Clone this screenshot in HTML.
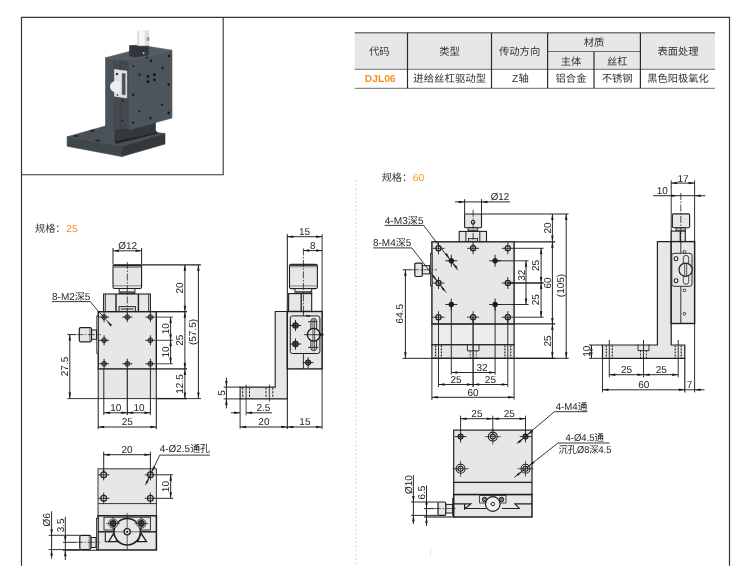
<!DOCTYPE html>
<html lang="zh-CN">
<head>
<meta charset="utf-8">
<title>DJL06 进给丝杠驱动型 Z轴</title>
<style>
html,body{margin:0;padding:0;background:#fff;}
body{width:750px;height:568px;overflow:hidden;}
svg{display:block;text-rendering:geometricPrecision;font-family:'Liberation Sans','Noto Sans CJK SC',sans-serif;}
</style>
</head>
<body>
<svg width="750" height="568" viewBox="0 0 750 568">
<defs><filter id="soft" x="0" y="0" width="750" height="568" filterUnits="userSpaceOnUse"><feGaussianBlur stdDeviation="0.38"/></filter><filter id="bl" x="-5%" y="-5%" width="110%" height="110%"><feGaussianBlur stdDeviation="0.55"/></filter></defs>
<rect width="750" height="568" fill="#fff"/>
<g filter="url(#soft)">
<path d="M21.5 565.7V17.4H729.5V565.7" fill="none" stroke="#3a3331" stroke-width="1.2"/>
<path d="M223.2 17.4V174.7H21.5" fill="none" stroke="#3a3331" stroke-width="1.1"/>
<line x1="356.1" y1="180" x2="356.1" y2="565" stroke="#dcdcdc" stroke-width="1.3" stroke-dasharray="2 2.2"/>
<line x1="430.5" y1="548.3" x2="430.5" y2="556.8" stroke="#dddddd" stroke-width="0.8"/>
<rect x="354.7" y="32.8" width="360.3" height="36.5" fill="#e6e7e8"/>
<line x1="354.7" y1="32.8" x2="715" y2="32.8" stroke="#77787a" stroke-width="1.4"/>
<line x1="354.7" y1="69.3" x2="715" y2="69.3" stroke="#6d6e70" stroke-width="1.0"/>
<line x1="354.7" y1="88.3" x2="715" y2="88.3" stroke="#6d6e70" stroke-width="1.0"/>
<line x1="547.6" y1="51.5" x2="640.4" y2="51.5" stroke="#6d6e70" stroke-width="1.0"/>
<line x1="407.5" y1="32.8" x2="407.5" y2="88.3" stroke="#2a2a2a" stroke-width="1.2"/>
<line x1="491.5" y1="32.8" x2="491.5" y2="88.3" stroke="#2a2a2a" stroke-width="1.2"/>
<line x1="547.6" y1="32.8" x2="547.6" y2="88.3" stroke="#2a2a2a" stroke-width="1.2"/>
<line x1="640.4" y1="32.8" x2="640.4" y2="88.3" stroke="#2a2a2a" stroke-width="1.2"/>
<line x1="594" y1="51.5" x2="594" y2="88.3" stroke="#2a2a2a" stroke-width="1.2"/>
<text x="379.2" y="55" font-size="10.3" text-anchor="middle" fill="#333" textLength="20.6" lengthAdjust="spacingAndGlyphs">代码</text>
<text x="449.5" y="55" font-size="10.3" text-anchor="middle" fill="#333">类型</text>
<text x="519.6" y="55" font-size="10.3" text-anchor="middle" fill="#333">传动方向</text>
<text x="594" y="45.9" font-size="10.3" text-anchor="middle" fill="#333">材质</text>
<text x="571" y="64.5" font-size="10.3" text-anchor="middle" fill="#333">主体</text>
<text x="617.2" y="64.5" font-size="10.3" text-anchor="middle" fill="#333">丝杠</text>
<text x="678" y="55" font-size="10.3" text-anchor="middle" fill="#333">表面处理</text>
<text x="380.2" y="82.3" font-size="10.2" text-anchor="middle" fill="#f7931e" textLength="30.7" lengthAdjust="spacingAndGlyphs" font-weight="bold">DJL06</text>
<text x="449.7" y="82.4" font-size="10.3" text-anchor="middle" fill="#333" textLength="72.8" lengthAdjust="spacingAndGlyphs">进给丝杠驱动型</text>
<text x="520.4" y="82.4" font-size="10.3" text-anchor="middle" fill="#333">Z轴</text>
<text x="571" y="82.4" font-size="10.3" text-anchor="middle" fill="#333">铝合金</text>
<text x="617.2" y="82.4" font-size="10.3" text-anchor="middle" fill="#333">不锈钢</text>
<text x="678" y="82.4" font-size="10.3" text-anchor="middle" fill="#333" textLength="61.4" lengthAdjust="spacingAndGlyphs">黑色阳极氧化</text>
<g filter="url(#bl)">
<polygon points="67.1,136.8 105.3,126 165,133.6 122.6,146.6" fill="#4a5156" stroke="#4a5156" stroke-width="0.6" stroke-linejoin="miter"/>
<polygon points="67.1,136.8 122.6,146.6 121.8,156.6 67.1,146.2" fill="#41474c" stroke="#41474c" stroke-width="0.6" stroke-linejoin="miter"/>
<polygon points="122.6,146.6 165,133.6 165,144 121.8,156.6" fill="#32373b" stroke="#32373b" stroke-width="0.6" stroke-linejoin="miter"/>
<polygon points="114.4,140.2 155.5,130.5 157.5,133.2 116,143.6" fill="#1f2225" stroke="#1f2225" stroke-width="0.6" stroke-linejoin="miter"/>
<polygon points="114,124 155.5,118 155.5,132.5 114,141.5" fill="#34393d" stroke="#34393d" stroke-width="0.6" stroke-linejoin="miter"/>
<polygon points="105.5,57.8 114.2,59 114.2,141.5 105.5,139.5" fill="#4c5359" stroke="#4c5359" stroke-width="0.6" stroke-linejoin="miter"/>
<polygon points="114.2,59 129,60.6 129,127.5 114.2,129.5" fill="#454c51" stroke="#454c51" stroke-width="0.6" stroke-linejoin="miter"/>
<polygon points="128.5,60.4 172,50.2 172,118 131,129.3 128.5,129" fill="#4d555b" stroke="#4d555b" stroke-width="0.6" stroke-linejoin="miter"/>
<polygon points="120.3,60 128.5,60.4 128.5,129 120.3,128" fill="#434a4f" stroke="#434a4f" stroke-width="0.6" stroke-linejoin="miter"/>
<polygon points="105.5,57.8 129.5,51.4 149,46.6 172,50.2 128.5,60.4 114.2,59" fill="#535b61" stroke="#535b61" stroke-width="0.6" stroke-linejoin="miter"/>
<polygon points="129.5,45.6 148.6,44.8 148.6,54.8 136,57.3 129.5,56" fill="#31363a" stroke="#31363a" stroke-width="0.6" stroke-linejoin="miter"/>
<circle cx="143.6" cy="53.2" r="0.9" fill="#d8dadb"/>
<polygon points="137.4,30.8 148.8,30.8 148.8,45.6 137.4,45.6" fill="#dcdee0" stroke="#dcdee0" stroke-width="0.6" stroke-linejoin="miter"/>
<polygon points="139.5,31 144.5,31 144.5,45.2 139.5,45.2" fill="#f6f7f7" stroke="#f6f7f7" stroke-width="0.6" stroke-linejoin="miter"/>
<polygon points="147.2,37.5 149,37.5 149,40.5 147.2,40.5" fill="#8a8d90" stroke="#8a8d90" stroke-width="0.6" stroke-linejoin="miter"/>
<line x1="114.2" y1="60" x2="114.2" y2="128" stroke="#353a3e" stroke-width="0.6"/>
<line x1="120.3" y1="60" x2="120.3" y2="128" stroke="#353a3e" stroke-width="0.6"/>
<polygon points="114.4,69.5 126.8,71 126.8,98 114.4,96.2" fill="#e2e3e4" stroke="#e2e3e4" stroke-width="0.6" stroke-linejoin="miter"/>
<polygon points="122.2,73.4 125.1,73.8 125.1,94.8 122.2,94.4" fill="#4a5055" stroke="#4a5055" stroke-width="0.6" stroke-linejoin="miter"/>
<circle cx="115.6" cy="86.6" r="5.6" fill="#eeeeef"/>
<circle cx="117" cy="74" r="1.2" fill="#2a2d30"/>
<circle cx="117.4" cy="95" r="0.9" fill="#555a5e"/>
<ellipse cx="151.1" cy="60.9" rx="1.2" ry="1.32" fill="#16181a"/>
<ellipse cx="169" cy="56" rx="1.2" ry="1.32" fill="#16181a"/>
<ellipse cx="162.6" cy="68" rx="1.1" ry="1.21" fill="#16181a"/>
<ellipse cx="139.6" cy="74.7" rx="1.1" ry="1.21" fill="#16181a"/>
<ellipse cx="148" cy="76.2" rx="1.4" ry="1.54" fill="#16181a"/>
<ellipse cx="154.4" cy="74.5" rx="1.4" ry="1.54" fill="#16181a"/>
<ellipse cx="148" cy="81.5" rx="1.4" ry="1.54" fill="#16181a"/>
<ellipse cx="154.4" cy="79.7" rx="1.4" ry="1.54" fill="#16181a"/>
<ellipse cx="168.7" cy="84.6" rx="1.2" ry="1.32" fill="#16181a"/>
<ellipse cx="133.2" cy="94.7" rx="1.1" ry="1.21" fill="#16181a"/>
<ellipse cx="162.2" cy="104.7" rx="1.1" ry="1.21" fill="#16181a"/>
<ellipse cx="139.4" cy="111.5" rx="1.0" ry="1.10" fill="#16181a"/>
<ellipse cx="168.7" cy="113" rx="1.3" ry="1.43" fill="#16181a"/>
<ellipse cx="150.5" cy="118.1" rx="1.2" ry="1.32" fill="#16181a"/>
<ellipse cx="122.7" cy="100.9" rx="0.9" ry="0.99" fill="#16181a"/>
<ellipse cx="122.4" cy="120.4" rx="0.9" ry="0.99" fill="#16181a"/>
<ellipse cx="133.2" cy="122.6" rx="1.0" ry="1.10" fill="#16181a"/>
<ellipse cx="133.5" cy="66" rx="0.8" ry="0.88" fill="#16181a"/>
<ellipse cx="147" cy="57.5" rx="0.8" ry="0.88" fill="#16181a"/>
<ellipse cx="76" cy="136" rx="2.6" ry="1" fill="#24272a"/>
<ellipse cx="92.5" cy="130.8" rx="2.6" ry="1" fill="#24272a"/>
<ellipse cx="97.5" cy="140.5" rx="2.6" ry="1" fill="#24272a"/>
</g>
<text x="35" y="232.2" font-size="10.2" text-anchor="start" fill="#333">规格：</text>
<text x="66.2" y="232.2" font-size="10.2" text-anchor="start" fill="#f7931e" textLength="11.4" lengthAdjust="spacingAndGlyphs">25</text>
<text x="381.7" y="180.6" font-size="10.2" text-anchor="start" fill="#333">规格：</text>
<text x="412.7" y="180.6" font-size="10.2" text-anchor="start" fill="#f7931e" textLength="11.4" lengthAdjust="spacingAndGlyphs">60</text>
<rect x="98.2" y="368.9" width="58.1" height="29.7" fill="#e6e7e8"/>
<line x1="98.2" y1="368.9" x2="98.2" y2="429" stroke="#1d1a1b" stroke-width="1.0"/>
<line x1="156.3" y1="368.9" x2="156.3" y2="429" stroke="#1d1a1b" stroke-width="1.0"/>
<rect x="113" y="264.8" width="28.6" height="23.7" fill="#e6e7e8" stroke="#231f20" stroke-width="1.1" rx="1.6"/>
<line x1="113.6" y1="265.6" x2="141" y2="265.6" stroke="#231f20" stroke-width="1.5"/>
<line x1="113.6" y1="267.3" x2="141" y2="267.3" stroke="#555" stroke-width="0.7"/>
<line x1="113.6" y1="285.8" x2="141" y2="285.8" stroke="#555" stroke-width="0.7"/>
<rect x="119.2" y="288.5" width="15.7" height="5.1" fill="#f0f0f1" stroke="#231f20" stroke-width="1"/>
<rect x="120.2" y="291.8" width="13.8" height="2" fill="#6a6a6b" stroke="#231f20" stroke-width="0.6"/>
<rect x="103.6" y="294" width="46.8" height="17.7" fill="#e6e7e8" stroke="#231f20" stroke-width="1.1"/>
<line x1="105.4" y1="294" x2="105.4" y2="311.7" stroke="#231f20" stroke-width="0.8"/>
<line x1="148.6" y1="294" x2="148.6" y2="311.7" stroke="#231f20" stroke-width="0.8"/>
<line x1="116" y1="294" x2="116" y2="311.7" stroke="#231f20" stroke-width="1.4"/>
<line x1="138.4" y1="294" x2="138.4" y2="311.7" stroke="#231f20" stroke-width="1.4"/>
<rect x="119" y="306.6" width="16.6" height="5.1" fill="#d4d5d7" stroke="#231f20" stroke-width="0.9"/>
<line x1="121" y1="309" x2="133.6" y2="309" stroke="#231f20" stroke-width="0.9"/>
<rect x="98.2" y="311.7" width="58.1" height="57.2" fill="#e6e7e8" stroke="#231f20" stroke-width="1.4"/>
<rect x="96.8" y="316" width="1.4" height="37.5" fill="#e6e7e8" stroke="#231f20" stroke-width="0.8"/>
<rect x="91.5" y="330" width="5" height="9.3" fill="#e6e7e8" stroke="#231f20" stroke-width="1.0"/>
<rect x="79.3" y="327.6" width="12.2" height="14.2" fill="#e6e7e8" stroke="#231f20" stroke-width="1.2" rx="1.5"/>
<line x1="89.8" y1="328.4" x2="89.8" y2="341" stroke="#444" stroke-width="0.7"/>
<line x1="76.5" y1="334.6" x2="101" y2="334.6" stroke="#231f20" stroke-width="0.7" stroke-dasharray="7 1.5 1.5 1.5"/>
<circle cx="104.1" cy="317.1" r="2.4" fill="#8d8d8d" stroke="#231f20" stroke-width="0.9"/>
<line x1="99.1" y1="317.1" x2="109.1" y2="317.1" stroke="#231f20" stroke-width="0.95"/>
<line x1="104.1" y1="312.1" x2="104.1" y2="322.1" stroke="#231f20" stroke-width="0.95"/>
<circle cx="127.3" cy="317.1" r="2.4" fill="#8d8d8d" stroke="#231f20" stroke-width="0.9"/>
<line x1="122.3" y1="317.1" x2="132.3" y2="317.1" stroke="#231f20" stroke-width="0.95"/>
<line x1="127.3" y1="312.1" x2="127.3" y2="322.1" stroke="#231f20" stroke-width="0.95"/>
<circle cx="150.4" cy="317.1" r="2.4" fill="#8d8d8d" stroke="#231f20" stroke-width="0.9"/>
<line x1="145.4" y1="317.1" x2="155.4" y2="317.1" stroke="#231f20" stroke-width="0.95"/>
<line x1="150.4" y1="312.1" x2="150.4" y2="322.1" stroke="#231f20" stroke-width="0.95"/>
<circle cx="104.1" cy="340.3" r="2.4" fill="#8d8d8d" stroke="#231f20" stroke-width="0.9"/>
<line x1="99.1" y1="340.3" x2="109.1" y2="340.3" stroke="#231f20" stroke-width="0.95"/>
<line x1="104.1" y1="335.3" x2="104.1" y2="345.3" stroke="#231f20" stroke-width="0.95"/>
<circle cx="150.4" cy="340.3" r="2.4" fill="#8d8d8d" stroke="#231f20" stroke-width="0.9"/>
<line x1="145.4" y1="340.3" x2="155.4" y2="340.3" stroke="#231f20" stroke-width="0.95"/>
<line x1="150.4" y1="335.3" x2="150.4" y2="345.3" stroke="#231f20" stroke-width="0.95"/>
<circle cx="104.1" cy="363.8" r="2.4" fill="#8d8d8d" stroke="#231f20" stroke-width="0.9"/>
<line x1="99.1" y1="363.8" x2="109.1" y2="363.8" stroke="#231f20" stroke-width="0.95"/>
<line x1="104.1" y1="358.8" x2="104.1" y2="368.8" stroke="#231f20" stroke-width="0.95"/>
<circle cx="127.3" cy="363.8" r="2.4" fill="#8d8d8d" stroke="#231f20" stroke-width="0.9"/>
<line x1="122.3" y1="363.8" x2="132.3" y2="363.8" stroke="#231f20" stroke-width="0.95"/>
<line x1="127.3" y1="358.8" x2="127.3" y2="368.8" stroke="#231f20" stroke-width="0.95"/>
<circle cx="150.4" cy="363.8" r="2.4" fill="#8d8d8d" stroke="#231f20" stroke-width="0.9"/>
<line x1="145.4" y1="363.8" x2="155.4" y2="363.8" stroke="#231f20" stroke-width="0.95"/>
<line x1="150.4" y1="358.8" x2="150.4" y2="368.8" stroke="#231f20" stroke-width="0.95"/>
<line x1="127.3" y1="262" x2="127.3" y2="313" stroke="#231f20" stroke-width="0.8" stroke-dasharray="7 1.5 1.5 1.5"/>
<line x1="113" y1="248" x2="113" y2="264.8" stroke="#1d1a1b" stroke-width="0.95"/>
<line x1="141.6" y1="248" x2="141.6" y2="264.8" stroke="#1d1a1b" stroke-width="0.95"/>
<line x1="113" y1="250.8" x2="141.6" y2="250.8" stroke="#1d1a1b" stroke-width="0.95"/>
<polygon points="113,250.8 119,249.55 119,252.05" fill="#1d1a1b"/>
<polygon points="141.6,250.8 135.6,252.05 135.6,249.55" fill="#1d1a1b"/>
<text x="127.6" y="249.2" font-size="10" text-anchor="middle" fill="#262223" textLength="18.8" lengthAdjust="spacingAndGlyphs">Ø12</text>
<line x1="141.6" y1="264.8" x2="200.8" y2="264.8" stroke="#231f20" stroke-width="1.2"/>
<line x1="156.3" y1="311.7" x2="187" y2="311.7" stroke="#231f20" stroke-width="1.3"/>
<line x1="184.9" y1="264.8" x2="184.9" y2="311.7" stroke="#1d1a1b" stroke-width="0.95"/>
<polygon points="184.9,264.8 186.15,270.8 183.65,270.8" fill="#1d1a1b"/>
<polygon points="184.9,311.7 183.65,305.7 186.15,305.7" fill="#1d1a1b"/>
<text x="182.8" y="288" font-size="10" text-anchor="middle" fill="#262223" transform="rotate(-90 182.8 288)">20</text>
<line x1="198.4" y1="264.8" x2="198.4" y2="398.6" stroke="#1d1a1b" stroke-width="0.95"/>
<polygon points="198.4,264.8 199.65,270.8 197.15,270.8" fill="#1d1a1b"/>
<polygon points="198.4,398.6 197.15,392.6 199.65,392.6" fill="#1d1a1b"/>
<text x="196.3" y="332" font-size="10" text-anchor="middle" fill="#262223" transform="rotate(-90 196.3 332)">(57.5)</text>
<line x1="156.3" y1="317.1" x2="173" y2="317.1" stroke="#1d1a1b" stroke-width="0.8"/>
<line x1="156.3" y1="340.3" x2="173" y2="340.3" stroke="#1d1a1b" stroke-width="0.8"/>
<line x1="156.3" y1="363.8" x2="173" y2="363.8" stroke="#1d1a1b" stroke-width="0.8"/>
<line x1="170.6" y1="317.1" x2="170.6" y2="340.3" stroke="#1d1a1b" stroke-width="0.95"/>
<polygon points="170.6,317.1 171.85,323.1 169.35,323.1" fill="#1d1a1b"/>
<polygon points="170.6,340.3 169.35,334.3 171.85,334.3" fill="#1d1a1b"/>
<line x1="170.6" y1="340.3" x2="170.6" y2="363.8" stroke="#1d1a1b" stroke-width="0.95"/>
<polygon points="170.6,340.3 171.85,346.3 169.35,346.3" fill="#1d1a1b"/>
<polygon points="170.6,363.8 169.35,357.8 171.85,357.8" fill="#1d1a1b"/>
<text x="168.8" y="328.7" font-size="10" text-anchor="middle" fill="#262223" transform="rotate(-90 168.8 328.7)">10</text>
<text x="168.8" y="352" font-size="10" text-anchor="middle" fill="#262223" transform="rotate(-90 168.8 352)">10</text>
<line x1="184.9" y1="311.7" x2="184.9" y2="368.9" stroke="#1d1a1b" stroke-width="0.95"/>
<polygon points="184.9,311.7 186.15,317.7 183.65,317.7" fill="#1d1a1b"/>
<polygon points="184.9,368.9 183.65,362.9 186.15,362.9" fill="#1d1a1b"/>
<text x="183" y="340.3" font-size="10" text-anchor="middle" fill="#262223" transform="rotate(-90 183 340.3)">25</text>
<line x1="156.3" y1="368.9" x2="187" y2="368.9" stroke="#231f20" stroke-width="1.3"/>
<line x1="184.9" y1="368.9" x2="184.9" y2="398.6" stroke="#1d1a1b" stroke-width="0.95"/>
<polygon points="184.9,368.9 186.15,374.9 183.65,374.9" fill="#1d1a1b"/>
<polygon points="184.9,398.6 183.65,392.6 186.15,392.6" fill="#1d1a1b"/>
<text x="182.9" y="384" font-size="10" text-anchor="middle" fill="#262223" transform="rotate(-90 182.9 384)">12.5</text>
<line x1="67.3" y1="398.6" x2="201" y2="398.6" stroke="#231f20" stroke-width="0.9"/>
<line x1="156.3" y1="398.6" x2="187" y2="398.6" stroke="#231f20" stroke-width="1.3"/>
<line x1="67.3" y1="334.6" x2="76" y2="334.6" stroke="#1d1a1b" stroke-width="0.95"/>
<line x1="69.8" y1="334.6" x2="69.8" y2="398.6" stroke="#1d1a1b" stroke-width="0.95"/>
<polygon points="69.8,334.6 71.05,340.6 68.55,340.6" fill="#1d1a1b"/>
<polygon points="69.8,398.6 68.55,392.6 71.05,392.6" fill="#1d1a1b"/>
<text x="68" y="366.5" font-size="10" text-anchor="middle" fill="#262223" transform="rotate(-90 68 366.5)">27.5</text>
<line x1="103.8" y1="368.9" x2="103.8" y2="415" stroke="#1d1a1b" stroke-width="0.95"/>
<line x1="150.4" y1="368.9" x2="150.4" y2="415" stroke="#1d1a1b" stroke-width="0.95"/>
<line x1="127.3" y1="368.9" x2="127.3" y2="415" stroke="#231f20" stroke-width="1.1"/>
<line x1="104.1" y1="412.8" x2="127.3" y2="412.8" stroke="#1d1a1b" stroke-width="0.95"/>
<polygon points="104.1,412.8 110.1,411.55 110.1,414.05" fill="#1d1a1b"/>
<polygon points="127.3,412.8 121.3,414.05 121.3,411.55" fill="#1d1a1b"/>
<line x1="127.3" y1="412.8" x2="150.4" y2="412.8" stroke="#1d1a1b" stroke-width="0.95"/>
<polygon points="127.3,412.8 133.3,411.55 133.3,414.05" fill="#1d1a1b"/>
<polygon points="150.4,412.8 144.4,414.05 144.4,411.55" fill="#1d1a1b"/>
<text x="115.7" y="411" font-size="10" text-anchor="middle" fill="#262223">10</text>
<text x="139" y="411" font-size="10" text-anchor="middle" fill="#262223">10</text>
<line x1="98.2" y1="427" x2="156.3" y2="427" stroke="#1d1a1b" stroke-width="0.95"/>
<polygon points="98.2,427 104.2,425.75 104.2,428.25" fill="#1d1a1b"/>
<polygon points="156.3,427 150.3,428.25 150.3,425.75" fill="#1d1a1b"/>
<text x="127.3" y="425.3" font-size="10" text-anchor="middle" fill="#262223">25</text>
<text x="52" y="299.5" font-size="10" text-anchor="start" fill="#262223" textLength="38.4" lengthAdjust="spacingAndGlyphs">8-M2深5</text>
<path d="M52 301.6H90.3L98.6 311.6L104.1 317.1" fill="none" stroke="#231f20" stroke-width="0.9"/>
<polygon points="105.5,318.9 112.1,325.12 110.41,326.52" fill="#231f20"/>
<line x1="287.3" y1="234.2" x2="287.3" y2="429" stroke="#1d1a1b" stroke-width="1.0"/>
<line x1="322.1" y1="234.2" x2="322.1" y2="429" stroke="#1d1a1b" stroke-width="0.9"/>
<line x1="287.3" y1="236.7" x2="322.1" y2="236.7" stroke="#1d1a1b" stroke-width="0.95"/>
<polygon points="287.3,236.7 293.3,235.45 293.3,237.95" fill="#1d1a1b"/>
<polygon points="322.1,236.7 316.1,237.95 316.1,235.45" fill="#1d1a1b"/>
<text x="304.6" y="235.3" font-size="10" text-anchor="middle" fill="#262223">15</text>
<line x1="303.4" y1="250.6" x2="322.1" y2="250.6" stroke="#1d1a1b" stroke-width="0.95"/>
<polygon points="303.4,250.6 309.4,249.35 309.4,251.85" fill="#1d1a1b"/>
<polygon points="322.1,250.6 316.1,251.85 316.1,249.35" fill="#1d1a1b"/>
<text x="312.7" y="249.2" font-size="10" text-anchor="middle" fill="#262223">8</text>
<polygon points="275.2,311.5 287.3,311.5 287.3,398.9 240.1,398.9 240.1,387.1 275.2,387.1" fill="#e6e7e8" stroke="#231f20" stroke-width="1.1" stroke-linejoin="miter"/>
<rect x="289.5" y="264.3" width="27.9" height="24.3" fill="#e6e7e8" stroke="#231f20" stroke-width="1.1" rx="1.6"/>
<line x1="290.2" y1="265.1" x2="316.8" y2="265.1" stroke="#231f20" stroke-width="1.5"/>
<line x1="290.2" y1="266.8" x2="316.8" y2="266.8" stroke="#555" stroke-width="0.7"/>
<line x1="290.2" y1="285.9" x2="316.8" y2="285.9" stroke="#555" stroke-width="0.7"/>
<rect x="295" y="288.6" width="16.7" height="5" fill="#f0f0f1" stroke="#231f20" stroke-width="1"/>
<rect x="296" y="291.6" width="14.7" height="2.2" fill="#6a6a6b" stroke="#231f20" stroke-width="0.6"/>
<rect x="288.6" y="293.6" width="23.1" height="17.9" fill="#e6e7e8" stroke="#231f20" stroke-width="1.1"/>
<line x1="301.2" y1="293.6" x2="301.2" y2="311.5" stroke="#231f20" stroke-width="1.3"/>
<rect x="287.3" y="311.5" width="34.8" height="57.4" fill="#e6e7e8" stroke="#231f20" stroke-width="1.4"/>
<line x1="303.4" y1="311.5" x2="303.4" y2="368.9" stroke="#231f20" stroke-width="0.9"/>
<rect x="290.3" y="315.9" width="29.6" height="37.6" fill="#e6e7e8" stroke="#231f20" stroke-width="1.0" rx="2.2"/>
<rect x="310.9" y="318.6" width="5.7" height="32.1" fill="#e6e7e8" stroke="#231f20" stroke-width="0.9" rx="2.8"/>
<line x1="312.9" y1="319.5" x2="312.9" y2="349.8" stroke="#231f20" stroke-width="0.7"/>
<line x1="314.6" y1="319.5" x2="314.6" y2="349.8" stroke="#231f20" stroke-width="0.7"/>
<line x1="308" y1="321.7" x2="317.4" y2="321.7" stroke="#231f20" stroke-width="0.9"/>
<line x1="308" y1="347.4" x2="318.4" y2="347.4" stroke="#231f20" stroke-width="0.9"/>
<circle cx="313.7" cy="334.7" r="6.3" fill="#e6e7e8" stroke="#231f20" stroke-width="1.4"/>
<line x1="312.9" y1="328.5" x2="312.9" y2="341" stroke="#231f20" stroke-width="0.7"/>
<line x1="314.6" y1="328.5" x2="314.6" y2="341" stroke="#231f20" stroke-width="0.7"/>
<line x1="304.1" y1="334.7" x2="324" y2="334.7" stroke="#231f20" stroke-width="0.9"/>
<circle cx="320.8" cy="334.7" r="1.4" fill="#231f20"/>
<line x1="306" y1="316" x2="310" y2="316" stroke="#231f20" stroke-width="1.4"/>
<circle cx="295.5" cy="325.5" r="2.7" fill="#5c5c5c" stroke="#231f20" stroke-width="1.2"/>
<line x1="289.9" y1="325.5" x2="301.1" y2="325.5" stroke="#231f20" stroke-width="0.95"/>
<line x1="295.5" y1="319.9" x2="295.5" y2="331.1" stroke="#231f20" stroke-width="0.95"/>
<circle cx="295.5" cy="344" r="2.7" fill="#5c5c5c" stroke="#231f20" stroke-width="1.2"/>
<line x1="289.9" y1="344" x2="301.1" y2="344" stroke="#231f20" stroke-width="0.95"/>
<line x1="295.5" y1="338.4" x2="295.5" y2="349.6" stroke="#231f20" stroke-width="0.95"/>
<circle cx="308.1" cy="362.6" r="2.5" fill="#777" stroke="#231f20" stroke-width="1.1"/>
<line x1="302.7" y1="362.6" x2="313.5" y2="362.6" stroke="#231f20" stroke-width="0.95"/>
<line x1="308.1" y1="357.2" x2="308.1" y2="368" stroke="#231f20" stroke-width="0.95"/>
<line x1="303.4" y1="248.4" x2="303.4" y2="313" stroke="#231f20" stroke-width="0.8" stroke-dasharray="7 1.5 1.5 1.5"/>
<line x1="242.7" y1="387.6" x2="242.7" y2="398.5" stroke="#231f20" stroke-width="1.0" stroke-dasharray="2.2 1.3"/>
<line x1="249.5" y1="387.6" x2="249.5" y2="398.5" stroke="#231f20" stroke-width="1.0" stroke-dasharray="2.2 1.3"/>
<line x1="246.1" y1="384.5" x2="246.1" y2="415.3" stroke="#231f20" stroke-width="0.8"/>
<line x1="266" y1="387.6" x2="266" y2="398.5" stroke="#231f20" stroke-width="1.0" stroke-dasharray="2.2 1.3"/>
<line x1="272.8" y1="387.6" x2="272.8" y2="398.5" stroke="#231f20" stroke-width="1.0" stroke-dasharray="2.2 1.3"/>
<line x1="269.4" y1="384.5" x2="269.4" y2="401.5" stroke="#231f20" stroke-width="0.8"/>
<line x1="223.7" y1="387.1" x2="240.1" y2="387.1" stroke="#1d1a1b" stroke-width="0.95"/>
<line x1="223.7" y1="398.9" x2="240.1" y2="398.9" stroke="#1d1a1b" stroke-width="0.95"/>
<line x1="226.4" y1="377.6" x2="226.4" y2="387.1" stroke="#1d1a1b" stroke-width="0.95"/>
<line x1="226.4" y1="398.9" x2="226.4" y2="408.4" stroke="#1d1a1b" stroke-width="0.95"/>
<polygon points="226.4,387.1 225.15,381.1 227.65,381.1" fill="#1d1a1b"/>
<polygon points="226.4,398.9 227.65,404.9 225.15,404.9" fill="#1d1a1b"/>
<line x1="226.4" y1="387.1" x2="226.4" y2="398.9" stroke="#1d1a1b" stroke-width="0.95"/>
<text x="225.2" y="392.9" font-size="10" text-anchor="middle" fill="#262223" transform="rotate(-90 225.2 392.9)">5</text>
<line x1="240.1" y1="398.9" x2="240.1" y2="428.6" stroke="#1d1a1b" stroke-width="0.9"/>
<line x1="230.9" y1="412.8" x2="240.1" y2="412.8" stroke="#1d1a1b" stroke-width="0.95"/>
<line x1="246.1" y1="412.8" x2="271.9" y2="412.8" stroke="#1d1a1b" stroke-width="0.95"/>
<polygon points="240.1,412.8 234.1,414.05 234.1,411.55" fill="#1d1a1b"/>
<polygon points="246.1,412.8 252.1,411.55 252.1,414.05" fill="#1d1a1b"/>
<text x="263.4" y="411" font-size="10" text-anchor="middle" fill="#262223">2.5</text>
<line x1="240.1" y1="427" x2="287.3" y2="427" stroke="#1d1a1b" stroke-width="0.95"/>
<polygon points="240.1,427 246.1,425.75 246.1,428.25" fill="#1d1a1b"/>
<polygon points="287.3,427 281.3,428.25 281.3,425.75" fill="#1d1a1b"/>
<text x="263.9" y="425.3" font-size="10" text-anchor="middle" fill="#262223">20</text>
<line x1="287.3" y1="427" x2="322.1" y2="427" stroke="#1d1a1b" stroke-width="0.95"/>
<polygon points="287.3,427 293.3,425.75 293.3,428.25" fill="#1d1a1b"/>
<polygon points="322.1,427 316.1,428.25 316.1,425.75" fill="#1d1a1b"/>
<text x="304.9" y="425.3" font-size="10" text-anchor="middle" fill="#262223">15</text>
<rect x="98" y="468.8" width="58.4" height="47.2" fill="#e6e7e8" stroke="#3a3637" stroke-width="1.0"/>
<line x1="98" y1="503.6" x2="156.4" y2="503.6" stroke="#3a3637" stroke-width="1.0"/>
<circle cx="103.7" cy="474.8" r="2.9" fill="#e6e7e8" stroke="#231f20" stroke-width="1.2"/>
<line x1="98.1" y1="474.8" x2="109.3" y2="474.8" stroke="#231f20" stroke-width="0.9"/>
<line x1="103.7" y1="469.2" x2="103.7" y2="480.4" stroke="#231f20" stroke-width="0.9"/>
<circle cx="103.7" cy="498.3" r="2.9" fill="#e6e7e8" stroke="#231f20" stroke-width="1.2"/>
<line x1="98.1" y1="498.3" x2="109.3" y2="498.3" stroke="#231f20" stroke-width="0.9"/>
<line x1="103.7" y1="492.7" x2="103.7" y2="503.9" stroke="#231f20" stroke-width="0.9"/>
<circle cx="150.4" cy="474.8" r="2.9" fill="#e6e7e8" stroke="#231f20" stroke-width="1.2"/>
<line x1="144.8" y1="474.8" x2="156" y2="474.8" stroke="#231f20" stroke-width="0.9"/>
<line x1="150.4" y1="469.2" x2="150.4" y2="480.4" stroke="#231f20" stroke-width="0.9"/>
<circle cx="150.4" cy="498.3" r="2.9" fill="#e6e7e8" stroke="#231f20" stroke-width="1.2"/>
<line x1="144.8" y1="498.3" x2="156" y2="498.3" stroke="#231f20" stroke-width="0.9"/>
<line x1="150.4" y1="492.7" x2="150.4" y2="503.9" stroke="#231f20" stroke-width="0.9"/>
<line x1="103.7" y1="451.7" x2="103.7" y2="472" stroke="#1d1a1b" stroke-width="0.95"/>
<line x1="150.4" y1="451.7" x2="150.4" y2="472" stroke="#1d1a1b" stroke-width="0.95"/>
<line x1="103.7" y1="454.7" x2="150.4" y2="454.7" stroke="#1d1a1b" stroke-width="0.95"/>
<polygon points="103.7,454.7 109.7,453.45 109.7,455.95" fill="#1d1a1b"/>
<polygon points="150.4,454.7 144.4,455.95 144.4,453.45" fill="#1d1a1b"/>
<text x="127" y="453.1" font-size="10" text-anchor="middle" fill="#262223">20</text>
<text x="159.8" y="452" font-size="10" text-anchor="start" fill="#262223" textLength="50.2" lengthAdjust="spacingAndGlyphs">4-Ø2.5通孔</text>
<path d="M210 455.1H159.8L145.4 485.2" fill="none" stroke="#231f20" stroke-width="0.9"/>
<polygon points="151.35,472.82 153.38,466.03 155.36,466.98" fill="#231f20"/>
<polygon points="149.45,476.78 147.42,483.57 145.44,482.62" fill="#231f20"/>
<line x1="156.4" y1="474.8" x2="173.2" y2="474.8" stroke="#1d1a1b" stroke-width="0.95"/>
<line x1="156.4" y1="498.3" x2="173.2" y2="498.3" stroke="#1d1a1b" stroke-width="0.95"/>
<line x1="170.7" y1="474.8" x2="170.7" y2="498.3" stroke="#1d1a1b" stroke-width="0.95"/>
<polygon points="170.7,474.8 171.95,480.8 169.45,480.8" fill="#1d1a1b"/>
<polygon points="170.7,498.3 169.45,492.3 171.95,492.3" fill="#1d1a1b"/>
<text x="169" y="486.6" font-size="10" text-anchor="middle" fill="#262223" transform="rotate(-90 169 486.6)">10</text>
<rect x="98" y="515.8" width="58.4" height="34.2" fill="#e6e7e8" stroke="#231f20" stroke-width="1.5"/>
<rect x="104" y="517.2" width="46.4" height="12.8" fill="#e6e7e8" stroke="#231f20" stroke-width="0.9"/>
<line x1="98" y1="531.8" x2="115" y2="531.8" stroke="#231f20" stroke-width="1.5"/>
<line x1="139.5" y1="531.8" x2="156.4" y2="531.8" stroke="#231f20" stroke-width="1.5"/>
<circle cx="127.2" cy="531.8" r="13.2" fill="#e6e7e8" stroke="#231f20" stroke-width="1.5"/>
<line x1="113" y1="531.8" x2="141" y2="531.8" stroke="#231f20" stroke-width="0.6"/>
<line x1="127.2" y1="513" x2="127.2" y2="550" stroke="#231f20" stroke-width="0.7"/>
<circle cx="127.2" cy="531.8" r="3.1" fill="#e6e7e8" stroke="#231f20" stroke-width="1.3"/>
<circle cx="127.2" cy="531.8" r="1.1" fill="#231f20"/>
<circle cx="113.2" cy="523.5" r="4.6" fill="#e6e7e8" stroke="#231f20" stroke-width="0.8"/>
<circle cx="113.2" cy="523.5" r="2.9" fill="#4a4748" stroke="#231f20" stroke-width="1.1"/>
<line x1="106.2" y1="523.5" x2="120.2" y2="523.5" stroke="#231f20" stroke-width="0.6"/>
<line x1="113.2" y1="517" x2="113.2" y2="530" stroke="#231f20" stroke-width="0.6"/>
<circle cx="141.4" cy="523.5" r="4.6" fill="#e6e7e8" stroke="#231f20" stroke-width="0.8"/>
<circle cx="141.4" cy="523.5" r="2.9" fill="#4a4748" stroke="#231f20" stroke-width="1.1"/>
<line x1="134.4" y1="523.5" x2="148.4" y2="523.5" stroke="#231f20" stroke-width="0.6"/>
<line x1="141.4" y1="517" x2="141.4" y2="530" stroke="#231f20" stroke-width="0.6"/>
<polygon points="113.5,533.6 108.8,541.7 117.4,541.7" fill="#f2f2f2" stroke="#231f20" stroke-width="1.3" stroke-linejoin="miter"/>
<polygon points="141.3,533.6 137.6,541.7 146.5,541.7" fill="#f2f2f2" stroke="#231f20" stroke-width="1.3" stroke-linejoin="miter"/>
<path d="M105.3 532.5V541.7H109" fill="none" stroke="#231f20" stroke-width="1.1"/>
<rect x="96.4" y="518.3" width="1.6" height="31.2" fill="#e6e7e8" stroke="#231f20" stroke-width="0.8"/>
<rect x="90.8" y="537.5" width="5.2" height="10" fill="#e6e7e8" stroke="#231f20" stroke-width="1.0"/>
<rect x="79.8" y="535.3" width="11.1" height="14.2" fill="#e6e7e8" stroke="#231f20" stroke-width="1.2" rx="1.5"/>
<line x1="89.2" y1="536" x2="89.2" y2="549" stroke="#444" stroke-width="0.7"/>
<line x1="76" y1="542.3" x2="100" y2="542.3" stroke="#231f20" stroke-width="0.7" stroke-dasharray="7 1.5 1.5 1.5"/>
<line x1="48.7" y1="535.3" x2="79.8" y2="535.3" stroke="#1d1a1b" stroke-width="0.9"/>
<line x1="48.7" y1="549.6" x2="79.8" y2="549.6" stroke="#1d1a1b" stroke-width="0.9"/>
<line x1="51.6" y1="511.3" x2="51.6" y2="558.7" stroke="#1d1a1b" stroke-width="0.95"/>
<polygon points="51.6,535.3 50.35,529.3 52.85,529.3" fill="#1d1a1b"/>
<polygon points="51.6,549.6 52.85,555.6 50.35,555.6" fill="#1d1a1b"/>
<text x="49.6" y="519.7" font-size="10" text-anchor="middle" fill="#262223" transform="rotate(-90 49.6 519.7)">Ø6</text>
<line x1="63" y1="542.3" x2="76" y2="542.3" stroke="#1d1a1b" stroke-width="0.95"/>
<line x1="63" y1="550.3" x2="98" y2="550.3" stroke="#231f20" stroke-width="1.1"/>
<line x1="65.3" y1="517" x2="65.3" y2="560" stroke="#1d1a1b" stroke-width="0.95"/>
<polygon points="65.3,542.3 64.05,536.3 66.55,536.3" fill="#1d1a1b"/>
<polygon points="65.3,550.3 66.55,556.3 64.05,556.3" fill="#1d1a1b"/>
<text x="64.2" y="525.3" font-size="10" text-anchor="middle" fill="#262223" transform="rotate(-90 64.2 525.3)">3.5</text>
<rect x="431.9" y="323.9" width="82.2" height="20.9" fill="#ebecec" stroke="#231f20" stroke-width="1.2"/>
<rect x="431.9" y="344.8" width="82.2" height="13.5" fill="#e6e7e8" stroke="#231f20" stroke-width="1.2"/>
<rect x="464.6" y="214" width="16.9" height="13.7" fill="#e6e7e8" stroke="#231f20" stroke-width="1.1" rx="1"/>
<rect x="468.1" y="227.7" width="9.6" height="3.1" fill="#b9babc" stroke="#231f20" stroke-width="0.9"/>
<rect x="459.2" y="231.4" width="27.3" height="10.4" fill="#e6e7e8" stroke="#231f20" stroke-width="1.1"/>
<line x1="465.9" y1="231.4" x2="465.9" y2="241.8" stroke="#231f20" stroke-width="1.0"/>
<line x1="479.8" y1="231.4" x2="479.8" y2="241.8" stroke="#231f20" stroke-width="1.0"/>
<rect x="468.4" y="238.4" width="9.2" height="3.4" fill="#cfd0d2" stroke="#231f20" stroke-width="0.8"/>
<rect x="431.9" y="241.8" width="82.2" height="82.1" fill="#e6e7e8" stroke="#231f20" stroke-width="1.4"/>
<circle cx="473.1" cy="222.3" r="1.8" fill="#fff" stroke="#231f20" stroke-width="1.1"/>
<line x1="473.1" y1="209.8" x2="473.1" y2="246" stroke="#231f20" stroke-width="0.8" stroke-dasharray="7 1.5 1.5 1.5"/>
<rect x="430.4" y="253.4" width="1.5" height="32.6" fill="#e6e7e8" stroke="#231f20" stroke-width="0.8"/>
<rect x="422.1" y="265.6" width="7.5" height="8.3" fill="#e6e7e8" stroke="#231f20" stroke-width="1.0"/>
<rect x="414.8" y="263.1" width="7.5" height="13.4" fill="#e6e7e8" stroke="#231f20" stroke-width="1.2" rx="1.2"/>
<line x1="411.8" y1="269.8" x2="437" y2="269.8" stroke="#231f20" stroke-width="0.7" stroke-dasharray="7 1.5 1.5 1.5"/>
<circle cx="438.5" cy="248.3" r="2.6" fill="#e6e7e8" stroke="#231f20" stroke-width="1.2"/>
<line x1="432.5" y1="248.3" x2="444.5" y2="248.3" stroke="#231f20" stroke-width="0.9"/>
<line x1="438.5" y1="242.3" x2="438.5" y2="254.3" stroke="#231f20" stroke-width="0.9"/>
<circle cx="473.1" cy="248.3" r="2.6" fill="#e6e7e8" stroke="#231f20" stroke-width="1.2"/>
<line x1="467.1" y1="248.3" x2="479.1" y2="248.3" stroke="#231f20" stroke-width="0.9"/>
<line x1="473.1" y1="242.3" x2="473.1" y2="254.3" stroke="#231f20" stroke-width="0.9"/>
<circle cx="507.8" cy="248.3" r="2.6" fill="#e6e7e8" stroke="#231f20" stroke-width="1.2"/>
<line x1="501.8" y1="248.3" x2="513.8" y2="248.3" stroke="#231f20" stroke-width="0.9"/>
<line x1="507.8" y1="242.3" x2="507.8" y2="254.3" stroke="#231f20" stroke-width="0.9"/>
<circle cx="438.5" cy="283" r="2.6" fill="#e6e7e8" stroke="#231f20" stroke-width="1.2"/>
<line x1="432.5" y1="283" x2="444.5" y2="283" stroke="#231f20" stroke-width="0.9"/>
<line x1="438.5" y1="277" x2="438.5" y2="289" stroke="#231f20" stroke-width="0.9"/>
<circle cx="507.8" cy="283" r="2.6" fill="#e6e7e8" stroke="#231f20" stroke-width="1.2"/>
<line x1="501.8" y1="283" x2="513.8" y2="283" stroke="#231f20" stroke-width="0.9"/>
<line x1="507.8" y1="277" x2="507.8" y2="289" stroke="#231f20" stroke-width="0.9"/>
<circle cx="438.5" cy="317.2" r="2.6" fill="#e6e7e8" stroke="#231f20" stroke-width="1.2"/>
<line x1="432.5" y1="317.2" x2="444.5" y2="317.2" stroke="#231f20" stroke-width="0.9"/>
<line x1="438.5" y1="311.2" x2="438.5" y2="323.2" stroke="#231f20" stroke-width="0.9"/>
<circle cx="473.1" cy="317.2" r="2.6" fill="#e6e7e8" stroke="#231f20" stroke-width="1.2"/>
<line x1="467.1" y1="317.2" x2="479.1" y2="317.2" stroke="#231f20" stroke-width="0.9"/>
<line x1="473.1" y1="311.2" x2="473.1" y2="323.2" stroke="#231f20" stroke-width="0.9"/>
<circle cx="507.8" cy="317.2" r="2.6" fill="#e6e7e8" stroke="#231f20" stroke-width="1.2"/>
<line x1="501.8" y1="317.2" x2="513.8" y2="317.2" stroke="#231f20" stroke-width="0.9"/>
<line x1="507.8" y1="311.2" x2="507.8" y2="323.2" stroke="#231f20" stroke-width="0.9"/>
<circle cx="451.3" cy="260.8" r="2.4" fill="#1d1a1b" stroke="#231f20" stroke-width="0.9"/>
<line x1="445.3" y1="260.8" x2="457.3" y2="260.8" stroke="#231f20" stroke-width="0.95"/>
<line x1="451.3" y1="254.8" x2="451.3" y2="266.8" stroke="#231f20" stroke-width="0.95"/>
<circle cx="495.1" cy="260.8" r="2.4" fill="#1d1a1b" stroke="#231f20" stroke-width="0.9"/>
<line x1="489.1" y1="260.8" x2="501.1" y2="260.8" stroke="#231f20" stroke-width="0.95"/>
<line x1="495.1" y1="254.8" x2="495.1" y2="266.8" stroke="#231f20" stroke-width="0.95"/>
<circle cx="451.3" cy="304.5" r="2.4" fill="#1d1a1b" stroke="#231f20" stroke-width="0.9"/>
<line x1="445.3" y1="304.5" x2="457.3" y2="304.5" stroke="#231f20" stroke-width="0.95"/>
<line x1="451.3" y1="298.5" x2="451.3" y2="310.5" stroke="#231f20" stroke-width="0.95"/>
<circle cx="495.1" cy="304.5" r="2.4" fill="#1d1a1b" stroke="#231f20" stroke-width="0.9"/>
<line x1="489.1" y1="304.5" x2="501.1" y2="304.5" stroke="#231f20" stroke-width="0.95"/>
<line x1="495.1" y1="298.5" x2="495.1" y2="310.5" stroke="#231f20" stroke-width="0.95"/>
<line x1="435.6" y1="345.4" x2="435.6" y2="358" stroke="#231f20" stroke-width="1.2" stroke-dasharray="1.8 1.2"/>
<line x1="441.4" y1="345.4" x2="441.4" y2="358" stroke="#231f20" stroke-width="1.2" stroke-dasharray="1.8 1.2"/>
<line x1="504.9" y1="345.4" x2="504.9" y2="358" stroke="#231f20" stroke-width="1.2" stroke-dasharray="1.8 1.2"/>
<line x1="510.7" y1="345.4" x2="510.7" y2="358" stroke="#231f20" stroke-width="1.2" stroke-dasharray="1.8 1.2"/>
<path d="M467.4 344.8V350.8H479V344.8" fill="none" stroke="#231f20" stroke-width="0.9"/>
<path d="M470.2 350.8V358M476.2 350.8V358" fill="none" stroke="#231f20" stroke-width="0.9" stroke-dasharray="1.8 1.2"/>
<line x1="438.5" y1="317" x2="438.5" y2="387" stroke="#1d1a1b" stroke-width="0.9"/>
<line x1="507.8" y1="317" x2="507.8" y2="387" stroke="#1d1a1b" stroke-width="0.9"/>
<line x1="473.1" y1="317" x2="473.1" y2="387" stroke="#231f20" stroke-width="1.3"/>
<line x1="451.3" y1="304.5" x2="451.3" y2="374.6" stroke="#1d1a1b" stroke-width="0.9"/>
<line x1="495.1" y1="304.5" x2="495.1" y2="374.6" stroke="#1d1a1b" stroke-width="0.9"/>
<line x1="431.9" y1="358.3" x2="431.9" y2="400" stroke="#1d1a1b" stroke-width="0.9"/>
<line x1="514.1" y1="358.3" x2="514.1" y2="399.6" stroke="#1d1a1b" stroke-width="0.9"/>
<line x1="451.4" y1="372.5" x2="495.1" y2="372.5" stroke="#1d1a1b" stroke-width="0.95"/>
<polygon points="451.4,372.5 457.4,371.25 457.4,373.75" fill="#1d1a1b"/>
<polygon points="495.1,372.5 489.1,373.75 489.1,371.25" fill="#1d1a1b"/>
<text x="482" y="370.8" font-size="10" text-anchor="middle" fill="#262223">32</text>
<line x1="438.5" y1="384.5" x2="473.1" y2="384.5" stroke="#1d1a1b" stroke-width="0.95"/>
<polygon points="438.5,384.5 444.5,383.25 444.5,385.75" fill="#1d1a1b"/>
<polygon points="473.1,384.5 467.1,385.75 467.1,383.25" fill="#1d1a1b"/>
<line x1="473.1" y1="384.5" x2="507.8" y2="384.5" stroke="#1d1a1b" stroke-width="0.95"/>
<polygon points="473.1,384.5 479.1,383.25 479.1,385.75" fill="#1d1a1b"/>
<polygon points="507.8,384.5 501.8,385.75 501.8,383.25" fill="#1d1a1b"/>
<text x="456" y="382.8" font-size="10" text-anchor="middle" fill="#262223">25</text>
<text x="490.4" y="382.8" font-size="10" text-anchor="middle" fill="#262223">25</text>
<line x1="431.9" y1="397.3" x2="514.1" y2="397.3" stroke="#1d1a1b" stroke-width="0.95"/>
<polygon points="431.9,397.3 437.9,396.05 437.9,398.55" fill="#1d1a1b"/>
<polygon points="514.1,397.3 508.1,398.55 508.1,396.05" fill="#1d1a1b"/>
<text x="473.1" y="395.6" font-size="10" text-anchor="middle" fill="#262223">60</text>
<line x1="514.1" y1="248.3" x2="543.6" y2="248.3" stroke="#1d1a1b" stroke-width="0.9"/>
<line x1="514.1" y1="317.2" x2="543.6" y2="317.2" stroke="#1d1a1b" stroke-width="0.9"/>
<line x1="507.8" y1="283" x2="543.6" y2="283" stroke="#231f20" stroke-width="1.3"/>
<line x1="495.1" y1="260.8" x2="528.6" y2="260.8" stroke="#1d1a1b" stroke-width="0.9"/>
<line x1="495.1" y1="304.5" x2="528.6" y2="304.5" stroke="#1d1a1b" stroke-width="0.9"/>
<line x1="526" y1="260.8" x2="526" y2="304.5" stroke="#1d1a1b" stroke-width="0.95"/>
<polygon points="526,260.8 527.25,266.8 524.75,266.8" fill="#1d1a1b"/>
<polygon points="526,304.5 524.75,298.5 527.25,298.5" fill="#1d1a1b"/>
<text x="525" y="275.2" font-size="10" text-anchor="middle" fill="#262223" transform="rotate(-90 525 275.2)">32</text>
<line x1="541.1" y1="248.3" x2="541.1" y2="283" stroke="#1d1a1b" stroke-width="0.95"/>
<polygon points="541.1,248.3 542.35,254.3 539.85,254.3" fill="#1d1a1b"/>
<polygon points="541.1,283 539.85,277 542.35,277" fill="#1d1a1b"/>
<line x1="541.1" y1="283" x2="541.1" y2="317.2" stroke="#1d1a1b" stroke-width="0.95"/>
<polygon points="541.1,283 542.35,289 539.85,289" fill="#1d1a1b"/>
<polygon points="541.1,317.2 539.85,311.2 542.35,311.2" fill="#1d1a1b"/>
<text x="539.4" y="265.5" font-size="10" text-anchor="middle" fill="#262223" transform="rotate(-90 539.4 265.5)">25</text>
<text x="539.4" y="299.8" font-size="10" text-anchor="middle" fill="#262223" transform="rotate(-90 539.4 299.8)">25</text>
<line x1="481.5" y1="214" x2="568.5" y2="214" stroke="#231f20" stroke-width="1.2"/>
<line x1="514.1" y1="241.8" x2="555.2" y2="241.8" stroke="#231f20" stroke-width="1.3"/>
<line x1="514.1" y1="323.9" x2="555.2" y2="323.9" stroke="#231f20" stroke-width="1.3"/>
<line x1="402.6" y1="358.3" x2="568.7" y2="358.3" stroke="#231f20" stroke-width="1.0"/>
<line x1="514.1" y1="358.3" x2="555.2" y2="358.3" stroke="#231f20" stroke-width="1.3"/>
<line x1="552.4" y1="214" x2="552.4" y2="241.8" stroke="#1d1a1b" stroke-width="0.95"/>
<polygon points="552.4,214 553.65,220 551.15,220" fill="#1d1a1b"/>
<polygon points="552.4,241.8 551.15,235.8 553.65,235.8" fill="#1d1a1b"/>
<text x="550.8" y="228" font-size="10" text-anchor="middle" fill="#262223" transform="rotate(-90 550.8 228)">20</text>
<line x1="552.4" y1="241.8" x2="552.4" y2="323.9" stroke="#1d1a1b" stroke-width="0.95"/>
<polygon points="552.4,241.8 553.65,247.8 551.15,247.8" fill="#1d1a1b"/>
<polygon points="552.4,323.9 551.15,317.9 553.65,317.9" fill="#1d1a1b"/>
<text x="550.8" y="283" font-size="10" text-anchor="middle" fill="#262223" transform="rotate(-90 550.8 283)">60</text>
<line x1="552.4" y1="323.9" x2="552.4" y2="358.3" stroke="#1d1a1b" stroke-width="0.95"/>
<polygon points="552.4,323.9 553.65,329.9 551.15,329.9" fill="#1d1a1b"/>
<polygon points="552.4,358.3 551.15,352.3 553.65,352.3" fill="#1d1a1b"/>
<text x="550.8" y="341" font-size="10" text-anchor="middle" fill="#262223" transform="rotate(-90 550.8 341)">25</text>
<line x1="566.2" y1="214" x2="566.2" y2="358.3" stroke="#1d1a1b" stroke-width="0.95"/>
<polygon points="566.2,214 567.45,220 564.95,220" fill="#1d1a1b"/>
<polygon points="566.2,358.3 564.95,352.3 567.45,352.3" fill="#1d1a1b"/>
<text x="563.8" y="285.5" font-size="10" text-anchor="middle" fill="#262223" transform="rotate(-90 563.8 285.5)">(105)</text>
<line x1="464.6" y1="199.2" x2="464.6" y2="214" stroke="#1d1a1b" stroke-width="0.95"/>
<line x1="481.5" y1="199.2" x2="481.5" y2="214" stroke="#1d1a1b" stroke-width="0.95"/>
<line x1="455" y1="201.9" x2="510" y2="201.9" stroke="#1d1a1b" stroke-width="0.95"/>
<polygon points="464.6,201.9 458.6,203.15 458.6,200.65" fill="#1d1a1b"/>
<polygon points="481.5,201.9 487.5,200.65 487.5,203.15" fill="#1d1a1b"/>
<text x="490.7" y="200.1" font-size="10" text-anchor="start" fill="#262223" textLength="18.4" lengthAdjust="spacingAndGlyphs">Ø12</text>
<line x1="402.6" y1="269.8" x2="411.8" y2="269.8" stroke="#1d1a1b" stroke-width="0.95"/>
<line x1="405.4" y1="269.8" x2="405.4" y2="358.3" stroke="#1d1a1b" stroke-width="0.95"/>
<polygon points="405.4,269.8 406.65,275.8 404.15,275.8" fill="#1d1a1b"/>
<polygon points="405.4,358.3 404.15,352.3 406.65,352.3" fill="#1d1a1b"/>
<text x="403.5" y="313.7" font-size="10" text-anchor="middle" fill="#262223" transform="rotate(-90 403.5 313.7)">64.5</text>
<text x="384.7" y="223.6" font-size="10" text-anchor="start" fill="#262223" textLength="39" lengthAdjust="spacingAndGlyphs">4-M3深5</text>
<path d="M384.7 225.4H423.6L457.8 270.2" fill="none" stroke="#231f20" stroke-width="0.9"/>
<polygon points="450.09,259.21 444.96,254.31 446.71,252.98" fill="#231f20"/>
<polygon points="452.51,262.39 457.64,267.29 455.89,268.62" fill="#231f20"/>
<text x="373" y="245.9" font-size="10" text-anchor="start" fill="#262223" textLength="38.2" lengthAdjust="spacingAndGlyphs">8-M4深5</text>
<path d="M373 247.9H411.8L446.3 292.6" fill="none" stroke="#231f20" stroke-width="0.9"/>
<polygon points="437.28,281.42 432.13,276.55 433.87,275.2" fill="#231f20"/>
<polygon points="439.72,284.58 444.87,289.45 443.13,290.8" fill="#231f20"/>
<line x1="671.2" y1="180.4" x2="671.2" y2="241.4" stroke="#1d1a1b" stroke-width="0.9"/>
<line x1="694.6" y1="180.4" x2="694.6" y2="392.4" stroke="#1d1a1b" stroke-width="0.9"/>
<line x1="671.2" y1="183.1" x2="694.6" y2="183.1" stroke="#1d1a1b" stroke-width="0.95"/>
<polygon points="671.2,183.1 677.2,181.85 677.2,184.35" fill="#1d1a1b"/>
<polygon points="694.6,183.1 688.6,184.35 688.6,181.85" fill="#1d1a1b"/>
<text x="683.1" y="181.8" font-size="10" text-anchor="middle" fill="#262223">17</text>
<line x1="653.3" y1="195.7" x2="705.3" y2="195.7" stroke="#1d1a1b" stroke-width="0.95"/>
<polygon points="677.3,195.7 671.3,196.95 671.3,194.45" fill="#1d1a1b"/>
<polygon points="694.6,195.7 700.6,194.45 700.6,196.95" fill="#1d1a1b"/>
<text x="662.3" y="194.3" font-size="10" text-anchor="middle" fill="#262223">10</text>
<polygon points="657.4,241.6 671.2,241.6 671.2,345 684.8,345 684.8,358.3 602.5,358.3 602.5,345 657.4,345" fill="#e6e7e8" stroke="#231f20" stroke-width="1.2" stroke-linejoin="miter"/>
<rect x="672.4" y="213.9" width="17.2" height="13.9" fill="#e6e7e8" stroke="#231f20" stroke-width="1.1" rx="1.2"/>
<rect x="676.1" y="227.8" width="9.2" height="3.3" fill="#b9babc" stroke="#231f20" stroke-width="0.9"/>
<rect x="671.2" y="231.1" width="14.1" height="10.5" fill="#e6e7e8" stroke="#231f20" stroke-width="1.1"/>
<line x1="680.3" y1="231.1" x2="680.3" y2="241.6" stroke="#231f20" stroke-width="1.3"/>
<rect x="671.2" y="241.6" width="23.4" height="81.9" fill="#e6e7e8" stroke="#231f20" stroke-width="1.4"/>
<line x1="680.8" y1="241.6" x2="680.8" y2="323.5" stroke="#231f20" stroke-width="0.9"/>
<rect x="671.8" y="253.3" width="20.2" height="33" fill="#e6e7e8" stroke="#231f20" stroke-width="0.9" rx="2.2"/>
<rect x="683.3" y="255.4" width="5.4" height="28.9" fill="#e6e7e8" stroke="#231f20" stroke-width="0.8" rx="2.7"/>
<circle cx="685.6" cy="269.7" r="6.6" fill="#e6e7e8" stroke="#231f20" stroke-width="1.2"/>
<line x1="684.7" y1="263.2" x2="684.7" y2="276.2" stroke="#231f20" stroke-width="0.7"/>
<line x1="686.7" y1="263.2" x2="686.7" y2="276.2" stroke="#231f20" stroke-width="0.7"/>
<circle cx="676" cy="258.7" r="1.9" fill="#fff" stroke="#231f20" stroke-width="1.1"/>
<circle cx="676" cy="280.7" r="1.9" fill="#fff" stroke="#231f20" stroke-width="1.1"/>
<circle cx="684.4" cy="251.6" r="1.3" fill="#fff" stroke="#231f20" stroke-width="0.9"/>
<circle cx="684.4" cy="290.4" r="1.3" fill="#fff" stroke="#231f20" stroke-width="0.9"/>
<circle cx="684.4" cy="313.7" r="1.3" fill="#fff" stroke="#231f20" stroke-width="0.9"/>
<line x1="680.8" y1="193" x2="680.8" y2="243" stroke="#231f20" stroke-width="0.8" stroke-dasharray="7 1.5 1.5 1.5"/>
<line x1="606.3" y1="345.4" x2="606.3" y2="358" stroke="#231f20" stroke-width="1.2" stroke-dasharray="1.8 1.2"/>
<line x1="612.3" y1="345.4" x2="612.3" y2="358" stroke="#231f20" stroke-width="1.2" stroke-dasharray="1.8 1.2"/>
<line x1="675.2" y1="345.4" x2="675.2" y2="358" stroke="#231f20" stroke-width="1.2" stroke-dasharray="1.8 1.2"/>
<line x1="681.2" y1="345.4" x2="681.2" y2="358" stroke="#231f20" stroke-width="1.2" stroke-dasharray="1.8 1.2"/>
<path d="M638 344.6V350.6H649V344.6" fill="none" stroke="#231f20" stroke-width="0.9"/>
<path d="M640.6 350.6V358M646.4 350.6V358" fill="none" stroke="#231f20" stroke-width="0.9" stroke-dasharray="1.8 1.2"/>
<line x1="589" y1="345" x2="602.5" y2="345" stroke="#1d1a1b" stroke-width="0.95"/>
<line x1="589" y1="358.3" x2="602.5" y2="358.3" stroke="#1d1a1b" stroke-width="0.95"/>
<line x1="591.4" y1="345" x2="591.4" y2="358.3" stroke="#1d1a1b" stroke-width="0.95"/>
<polygon points="591.4,345 592.65,351 590.15,351" fill="#1d1a1b"/>
<polygon points="591.4,358.3 590.15,352.3 592.65,352.3" fill="#1d1a1b"/>
<text x="590" y="351.3" font-size="10" text-anchor="middle" fill="#262223" transform="rotate(-90 590 351.3)">10</text>
<line x1="609.3" y1="340" x2="609.3" y2="377.3" stroke="#1d1a1b" stroke-width="0.9"/>
<line x1="643.5" y1="340" x2="643.5" y2="377.3" stroke="#1d1a1b" stroke-width="0.9"/>
<line x1="678.2" y1="340" x2="678.2" y2="377.3" stroke="#1d1a1b" stroke-width="0.9"/>
<line x1="609.3" y1="374.7" x2="643.5" y2="374.7" stroke="#1d1a1b" stroke-width="0.95"/>
<polygon points="609.3,374.7 615.3,373.45 615.3,375.95" fill="#1d1a1b"/>
<polygon points="643.5,374.7 637.5,375.95 637.5,373.45" fill="#1d1a1b"/>
<line x1="643.5" y1="374.7" x2="678.2" y2="374.7" stroke="#1d1a1b" stroke-width="0.95"/>
<polygon points="643.5,374.7 649.5,373.45 649.5,375.95" fill="#1d1a1b"/>
<polygon points="678.2,374.7 672.2,375.95 672.2,373.45" fill="#1d1a1b"/>
<text x="626.6" y="373" font-size="10" text-anchor="middle" fill="#262223">25</text>
<text x="661.3" y="373" font-size="10" text-anchor="middle" fill="#262223">25</text>
<line x1="602.5" y1="358.3" x2="602.5" y2="392.4" stroke="#1d1a1b" stroke-width="0.9"/>
<line x1="684.8" y1="358.3" x2="684.8" y2="392.4" stroke="#1d1a1b" stroke-width="1.1"/>
<line x1="602.5" y1="389.8" x2="684.8" y2="389.8" stroke="#1d1a1b" stroke-width="0.95"/>
<polygon points="602.5,389.8 608.5,388.55 608.5,391.05" fill="#1d1a1b"/>
<polygon points="684.8,389.8 678.8,391.05 678.8,388.55" fill="#1d1a1b"/>
<text x="643.7" y="388.3" font-size="10" text-anchor="middle" fill="#262223">60</text>
<line x1="684.8" y1="389.8" x2="704.5" y2="389.8" stroke="#1d1a1b" stroke-width="0.95"/>
<polygon points="694.6,389.8 700.6,388.55 700.6,391.05" fill="#1d1a1b"/>
<text x="689.6" y="388.3" font-size="10" text-anchor="middle" fill="#262223">7</text>
<rect x="453.7" y="430.1" width="78.3" height="64.4" fill="#e6e7e8" stroke="#231f20" stroke-width="1.2"/>
<line x1="453.7" y1="482.3" x2="532" y2="482.3" stroke="#231f20" stroke-width="1.2"/>
<circle cx="460.6" cy="436.6" r="2.5" fill="#9a9a9a" stroke="#231f20" stroke-width="1.1"/>
<line x1="454.8" y1="436.6" x2="466.4" y2="436.6" stroke="#231f20" stroke-width="0.95"/>
<line x1="460.6" y1="430.8" x2="460.6" y2="442.4" stroke="#231f20" stroke-width="0.95"/>
<circle cx="525.5" cy="436.6" r="2.5" fill="#6a6a6a" stroke="#231f20" stroke-width="1.1"/>
<line x1="519.7" y1="436.6" x2="531.3" y2="436.6" stroke="#231f20" stroke-width="0.95"/>
<line x1="525.5" y1="430.8" x2="525.5" y2="442.4" stroke="#231f20" stroke-width="0.95"/>
<circle cx="492.8" cy="436.6" r="4.5" fill="#e6e7e8" stroke="#231f20" stroke-width="1.1"/>
<circle cx="492.8" cy="436.6" r="2.5" fill="#e6e7e8" stroke="#231f20" stroke-width="1.1"/>
<line x1="484.8" y1="436.6" x2="500.8" y2="436.6" stroke="#231f20" stroke-width="0.7"/>
<line x1="492.8" y1="428.6" x2="492.8" y2="444.6" stroke="#231f20" stroke-width="0.7"/>
<circle cx="460.6" cy="468.7" r="4.5" fill="#e6e7e8" stroke="#231f20" stroke-width="1.1"/>
<circle cx="460.6" cy="468.7" r="2.5" fill="#e6e7e8" stroke="#231f20" stroke-width="1.1"/>
<line x1="452.6" y1="468.7" x2="468.6" y2="468.7" stroke="#231f20" stroke-width="0.7"/>
<line x1="460.6" y1="460.7" x2="460.6" y2="476.7" stroke="#231f20" stroke-width="0.7"/>
<circle cx="525.5" cy="468.7" r="4.5" fill="#e6e7e8" stroke="#231f20" stroke-width="1.1"/>
<circle cx="525.5" cy="468.7" r="2.5" fill="#e6e7e8" stroke="#231f20" stroke-width="1.1"/>
<line x1="517.5" y1="468.7" x2="533.5" y2="468.7" stroke="#231f20" stroke-width="0.7"/>
<line x1="525.5" y1="460.7" x2="525.5" y2="476.7" stroke="#231f20" stroke-width="0.7"/>
<line x1="460.6" y1="415.7" x2="460.6" y2="431" stroke="#1d1a1b" stroke-width="0.9"/>
<line x1="492.8" y1="415.7" x2="492.8" y2="431" stroke="#1d1a1b" stroke-width="0.9"/>
<line x1="525.5" y1="415.7" x2="525.5" y2="431" stroke="#1d1a1b" stroke-width="0.9"/>
<line x1="460.6" y1="418.7" x2="492.8" y2="418.7" stroke="#1d1a1b" stroke-width="0.95"/>
<polygon points="460.6,418.7 466.6,417.45 466.6,419.95" fill="#1d1a1b"/>
<polygon points="492.8,418.7 486.8,419.95 486.8,417.45" fill="#1d1a1b"/>
<line x1="492.8" y1="418.7" x2="525.5" y2="418.7" stroke="#1d1a1b" stroke-width="0.95"/>
<polygon points="492.8,418.7 498.8,417.45 498.8,419.95" fill="#1d1a1b"/>
<polygon points="525.5,418.7 519.5,419.95 519.5,417.45" fill="#1d1a1b"/>
<text x="476.9" y="416.8" font-size="10" text-anchor="middle" fill="#262223">25</text>
<text x="509.3" y="416.8" font-size="10" text-anchor="middle" fill="#262223">25</text>
<text x="555.7" y="409.7" font-size="10" text-anchor="start" fill="#262223" textLength="31.6" lengthAdjust="spacingAndGlyphs">4-M4通</text>
<path d="M587.3 411.7H554.4L516.7 443.6" fill="none" stroke="#231f20" stroke-width="0.9"/>
<polygon points="527.03,435.31 531.66,429.95 533.08,431.63" fill="#231f20"/>
<polygon points="523.97,437.89 519.34,443.25 517.92,441.57" fill="#231f20"/>
<text x="565.6" y="441" font-size="10" text-anchor="start" fill="#262223" textLength="38.4" lengthAdjust="spacingAndGlyphs">4-Ø4.5通</text>
<line x1="558" y1="443" x2="609.6" y2="443" stroke="#231f20" stroke-width="0.9"/>
<text x="558.6" y="453.2" font-size="10" text-anchor="start" fill="#262223" textLength="52.7" lengthAdjust="spacingAndGlyphs">沉孔Ø8深4.5</text>
<line x1="558" y1="443" x2="514.2" y2="477.5" stroke="#231f20" stroke-width="0.9"/>
<polygon points="528.25,466.53 533.07,461.34 534.43,463.07" fill="#231f20"/>
<polygon points="522.75,470.87 517.93,476.06 516.57,474.33" fill="#231f20"/>
<rect x="453.7" y="494.6" width="78.3" height="22.4" fill="#e6e7e8" stroke="#231f20" stroke-width="1.5"/>
<path d="M453.7 503.9H470.8L464.6 509V504M464.6 508.5H486.5M532 503.9H515L519.8 508.8M519.8 508.5H501.9" fill="none" stroke="#231f20" stroke-width="1.2"/>
<rect x="479.6" y="495.6" width="26.4" height="7.4" fill="#e6e7e8" stroke="#231f20" stroke-width="0.8"/>
<circle cx="484.6" cy="499.5" r="2.3" fill="#777" stroke="#231f20" stroke-width="1.0"/>
<circle cx="501.5" cy="499.5" r="2.3" fill="#777" stroke="#231f20" stroke-width="1.0"/>
<circle cx="492.8" cy="504" r="7.3" fill="#f1f1f2" stroke="#231f20" stroke-width="1.2"/>
<circle cx="492.8" cy="504" r="1.7" fill="#fff" stroke="#231f20" stroke-width="1.0"/>
<rect x="445.6" y="504.4" width="7" height="8.6" fill="#e6e7e8" stroke="#231f20" stroke-width="1.0"/>
<rect x="438" y="502" width="7.7" height="13.4" fill="#e6e7e8" stroke="#231f20" stroke-width="1.2" rx="1.2"/>
<line x1="452.6" y1="498" x2="452.6" y2="516" stroke="#231f20" stroke-width="0.8"/>
<line x1="434" y1="508.6" x2="457" y2="508.6" stroke="#231f20" stroke-width="0.7" stroke-dasharray="7 1.5 1.5 1.5"/>
<line x1="411" y1="502" x2="438" y2="502" stroke="#1d1a1b" stroke-width="0.9"/>
<line x1="411" y1="515.4" x2="438" y2="515.4" stroke="#1d1a1b" stroke-width="0.9"/>
<line x1="413.4" y1="475" x2="413.4" y2="524" stroke="#1d1a1b" stroke-width="0.95"/>
<polygon points="413.4,502 412.15,496 414.65,496" fill="#1d1a1b"/>
<polygon points="413.4,515.4 414.65,521.4 412.15,521.4" fill="#1d1a1b"/>
<text x="411.9" y="484.6" font-size="10" text-anchor="middle" fill="#262223" transform="rotate(-90 411.9 484.6)">Ø10</text>
<line x1="424" y1="508.6" x2="434" y2="508.6" stroke="#1d1a1b" stroke-width="0.95"/>
<line x1="424" y1="517" x2="453.7" y2="517" stroke="#231f20" stroke-width="1.1"/>
<line x1="426.5" y1="485.6" x2="426.5" y2="526" stroke="#1d1a1b" stroke-width="0.95"/>
<polygon points="426.5,508.6 425.25,502.6 427.75,502.6" fill="#1d1a1b"/>
<polygon points="426.5,517 427.75,523 425.25,523" fill="#1d1a1b"/>
<text x="425.2" y="492.6" font-size="10" text-anchor="middle" fill="#262223" transform="rotate(-90 425.2 492.6)">6.5</text>
</g>
</svg>
</body>
</html>
